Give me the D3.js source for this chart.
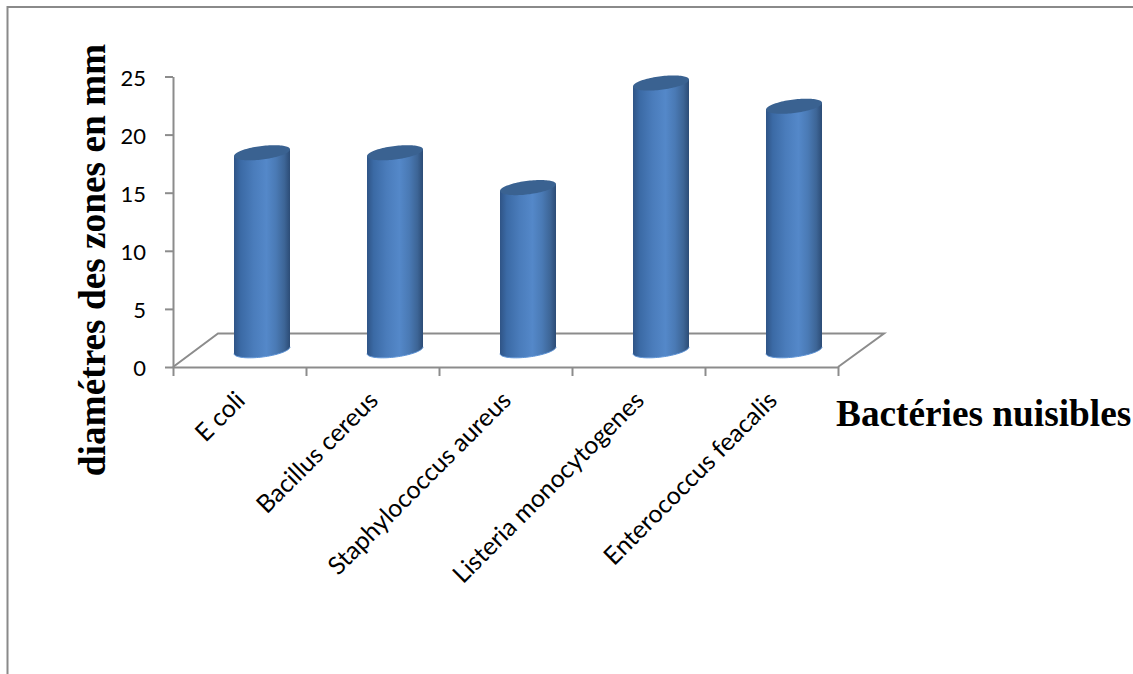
<!DOCTYPE html>
<html>
<head>
<meta charset="utf-8">
<script src="https://cdn.jsdelivr.net/npm/d3@7"></script>
<style>
  html, body { margin: 0; padding: 0; background: #fff; }
  svg { display: block; }
</style>
</head>
<body>
<svg id="chart" width="1133" height="674"></svg>
<script>
// Inhibition zone diameters (mm) per bacterium
const categories = ["E coli", "Bacillus cereus", "Staphylococcus aureus", "Listeria monocytogenes", "Enterococcus feacalis"];
const diameters = [17, 17, 14, 23, 21];
const valueTicks = [0, 5, 10, 15, 20, 25];
const yTitle = "diamétres des zones en mm";
const xTitle = "Bactéries nuisibles";

const svg = d3.select("#chart");
const axisGrey = "#8c8c8c";
const labelFont = "Lato, 'Open Sans', sans-serif";
const titleFont = "'Liberation Serif', serif";

// Front plane of the 3D plot box, and the depth offset of its floor
const plot = { left: 173, right: 838, bottom: 367, top: 76.5 };
const depth = { dx: 45, dy: -33.5 };

const x = d3.scaleBand().domain(categories).range([plot.left, plot.right]);
const y = d3.scaleLinear().domain([0, 25]).range([plot.bottom, plot.top]);

// Page frame along the top and left edges
svg.append("path")
  .attr("d", "M1133,7H7.5V674")
  .attr("fill", "none").attr("stroke", "#8a8a8a").attr("stroke-width", 2);

// Floor of the box
svg.append("path")
  .attr("d", d3.line()([
    [plot.left, plot.bottom],
    [plot.left + depth.dx, plot.bottom + depth.dy],
    [plot.right + depth.dx + 1, plot.bottom + depth.dy],
    [plot.right, plot.bottom]
  ]))
  .attr("fill", "none").attr("stroke", axisGrey).attr("stroke-width", 2);

// Value axis
const yAxis = svg.append("g")
  .attr("transform", `translate(${plot.left},0)`)
  .call(d3.axisLeft(y).tickValues(valueTicks).tickSize(8).tickSizeOuter(0).tickPadding(7));
yAxis.selectAll("path, line").attr("stroke", axisGrey).attr("stroke-width", 2);
yAxis.selectAll("text")
  .attr("font-family", labelFont).attr("font-size", 22).attr("fill", "#000")
  .attr("dy", "0.4em").attr("dx", -12);

// Category axis: ticks fall on the band boundaries
const edges = d3.scaleLinear().domain([0, categories.length]).range([plot.left, plot.right]);
const xAxis = svg.append("g")
  .attr("transform", `translate(0,${plot.bottom})`)
  .call(d3.axisBottom(edges).tickValues(d3.range(categories.length + 1)).tickSize(9).tickSizeOuter(0).tickFormat(""));
xAxis.selectAll("path, line").attr("stroke", axisGrey).attr("stroke-width", 2);

// Slanted category labels, anchored at their right end under each band
svg.append("g").selectAll("text").data(categories).join("text")
  .attr("transform", d => `translate(${x(d) + x.bandwidth() / 2 + 7},${plot.bottom + 35}) rotate(-45)`)
  .attr("text-anchor", "end")
  .attr("font-family", labelFont).attr("font-size", 24.8).attr("fill", "#000")
  .text(d => d);

// Horizontal shading across the cylinder body
const defs = svg.append("defs");
const grad = defs.append("linearGradient").attr("id", "cylinder").attr("x1", 0).attr("x2", 1).attr("y1", 0).attr("y2", 0);
[[0, "#2f5486"], [0.12, "#3b6aa5"], [0.35, "#4a7cbb"], [0.58, "#5488c9"], [0.75, "#4a7ab5"], [0.9, "#3d6596"], [1, "#2c4c76"]]
  .forEach(([o, c]) => grad.append("stop").attr("offset", o).attr("stop-color", c));

// Cylinders: an ellipse sheared by the chart's view angle, at base and top
const halfWidth = 28, ry = 6.8, shear = 0.12;
const pointOn = (cx, cy, t) => [cx + halfWidth * Math.cos(t), cy + ry * Math.sin(t) - shear * halfWidth * Math.cos(t)];
const arcLine = d3.line();
const arcAngles = d3.range(0, 49).map(i => i / 48 * Math.PI);        // lower half, right to left
const fullAngles = d3.range(0, 97).map(i => i / 96 * 2 * Math.PI);

const bars = svg.append("g").selectAll("g").data(categories).join("g");
bars.each(function (d, i) {
  const g = d3.select(this);
  const cx = x(d) + x.bandwidth() / 2 + depth.dx / 2;
  const baseY = y(0) + depth.dy / 2;
  const topY = y(diameters[i]) + depth.dy / 2;
  const bottomArc = arcAngles.map(t => pointOn(cx, baseY, t));
  const body = [pointOn(cx, topY, Math.PI), pointOn(cx, topY, 0), ...bottomArc];
  g.append("path").attr("d", arcLine(body) + "Z").attr("fill", "url(#cylinder)");
  g.append("path").attr("d", arcLine(bottomArc)).attr("fill", "none").attr("stroke", "#5d93d6").attr("stroke-width", 1);
  g.append("path").attr("d", arcLine(fullAngles.map(t => pointOn(cx, topY, t))) + "Z").attr("fill", "#3a6291");
});

// Axis titles
svg.append("text")
  .attr("transform", "translate(105,260) rotate(-90)")
  .attr("text-anchor", "middle")
  .attr("font-family", titleFont).attr("font-weight", "bold").attr("font-size", 37.3).attr("fill", "#000")
  .text(yTitle);
svg.append("text")
  .attr("x", 836).attr("y", 426)
  .attr("font-family", titleFont).attr("font-weight", "bold").attr("font-size", 37.3).attr("fill", "#000")
  .text(xTitle);
</script>
</body>
</html>
